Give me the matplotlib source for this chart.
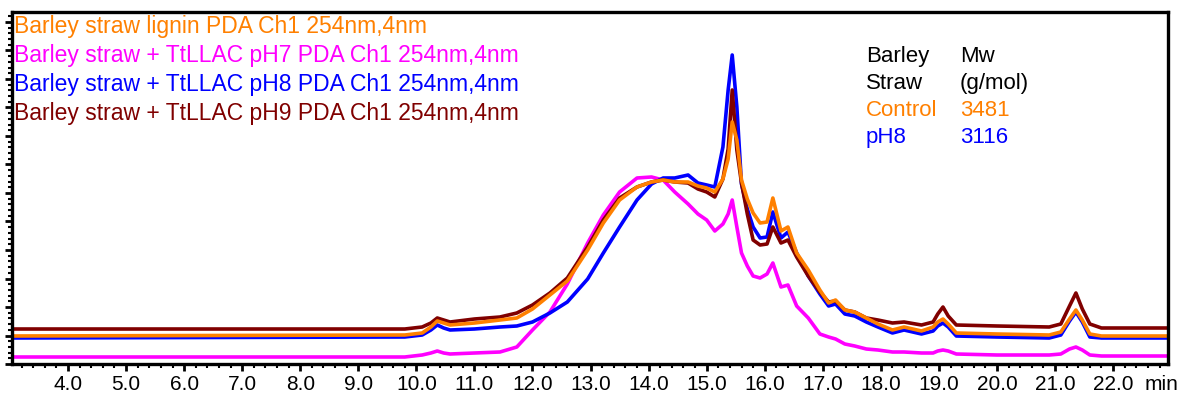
import matplotlib
matplotlib.use("Agg")
import matplotlib.pyplot as plt
from matplotlib.ticker import MultipleLocator, AutoMinorLocator

plt.rcParams["font.family"] = ["Liberation Sans", "DejaVu Sans"]

# ── chromatogram traces (retention time [min] vs. detector response, a.u.) ──
time_min = [
    3.0, 9.8, 10.1, 10.25, 10.36, 10.47, 10.58, 11.0, 11.44, 11.73,
    12.0, 12.3, 12.6, 12.95, 13.22, 13.5, 13.8, 14.05, 14.25, 14.45,
    14.68, 14.85, 15.0, 15.14, 15.28, 15.37, 15.44, 15.52, 15.6, 15.7,
    15.8, 15.92, 16.04, 16.14, 16.28, 16.4, 16.55, 16.75, 16.95, 17.1,
    17.22, 17.38, 17.55, 17.75, 17.95, 18.2, 18.4, 18.7, 18.9, 18.98,
    19.07, 19.16, 19.3, 20.0, 20.9, 21.1, 21.25, 21.36, 21.47, 21.6,
    21.8, 23.0,
]

control = [
    28, 29, 31, 37, 43, 41, 39, 41, 44, 46,
    55, 69, 83, 114, 141, 164, 177, 182, 184, 182,
    182, 178, 176, 172, 185, 205, 242, 224, 184, 165,
    151, 141, 142, 166, 133, 137, 111, 94, 74, 61,
    64, 54, 52, 46, 40, 34, 37, 33, 37, 42,
    45, 40, 31, 30, 29, 32, 45, 54, 44, 30,
    28, 28,
]

ph7 = [
    7, 7, 9, 11, 13, 11, 10, 11, 12, 17,
    34, 52, 80, 121, 149, 172, 186, 187, 184, 172,
    160, 150, 144, 133, 140, 150, 164, 137, 111, 98,
    88, 86, 90, 101, 77, 79, 58, 46, 30, 27,
    25, 20, 18, 15, 14, 12, 12, 11, 11, 13,
    14, 13, 10, 9, 9, 10, 15, 17, 14, 9,
    8, 8,
]

ph8 = [
    26, 27, 29, 34, 39, 36, 34, 35, 37, 38,
    42, 51, 62, 85, 111, 137, 164, 180, 186, 186,
    189, 181, 179, 177, 217, 274, 309, 257, 180, 155,
    137, 126, 127, 152, 126, 132, 111, 88, 70, 58,
    60, 50, 48, 42, 37, 31, 34, 30, 33, 38,
    41, 37, 28, 27, 26, 29, 43, 52, 42, 27,
    26, 26,
]

ph9 = [
    35, 35, 37, 41, 46, 44, 42, 45, 47, 51,
    59, 71, 86, 117, 144, 166, 177, 182, 184, 182,
    181, 175, 172, 167, 185, 215, 274, 214, 181, 150,
    124, 119, 120, 137, 121, 124, 107, 88, 72, 62,
    63, 54, 52, 46, 44, 41, 42, 39, 42, 50,
    57, 48, 39, 38, 37, 40, 58, 71, 55, 40,
    36, 36,
]

legend_labels = [
    "Barley straw lignin PDA Ch1 254nm,4nm",
    "Barley straw + TtLLAC pH7 PDA Ch1 254nm,4nm",
    "Barley straw + TtLLAC pH8 PDA Ch1 254nm,4nm",
    "Barley straw + TtLLAC pH9 PDA Ch1 254nm,4nm",
]

mw_header = [("Barley", "Mw"), ("Straw", "(g/mol)")]
mw_samples = ["Control", "pH8"]
mw_values = ["3481", "3116"]

C_ORANGE = "#ff8000"
C_MAGENTA = "#ff00ff"
C_BLUE = "#0000ff"
C_BROWN = "#800000"

W, H = 1186, 398
fig = plt.figure(figsize=(W / 100, H / 100), dpi=100)
ax = fig.add_axes([12 / W, 34 / H, 1156 / W, 352 / H])

lw = 2.6
ax.plot(time_min, ph7, color=C_MAGENTA, lw=lw, solid_joinstyle="round")
ax.plot(time_min, ph8, color=C_BLUE, lw=lw, solid_joinstyle="round")
ax.plot(time_min, ph9, color=C_BROWN, lw=lw, solid_joinstyle="round")
ax.plot(time_min, control, color=C_ORANGE, lw=lw, solid_joinstyle="round")

ax.set_xlim(3.035, 22.946)
ax.set_ylim(0, 352)

ax.xaxis.set_major_locator(MultipleLocator(1.0))
ax.xaxis.set_minor_locator(AutoMinorLocator(5))
ax.yaxis.set_major_locator(MultipleLocator(28.5))
ax.yaxis.set_minor_locator(AutoMinorLocator(5))
ax.xaxis.set_major_formatter(lambda v, p: f"{v:.1f}")
ax.tick_params(axis="x", which="major", length=5, width=2, labelsize=15, pad=3)
ax.tick_params(axis="x", which="minor", length=3, width=1.5)
ax.tick_params(axis="y", which="major", length=5, width=2)
ax.tick_params(axis="y", which="minor", length=3, width=1.5)
ax.tick_params(axis="y", labelleft=False)
for sp in ax.spines.values():
    sp.set_linewidth(2.4)

# x unit written after the last tick label, on the same line
ax.annotate("min", xy=(22.55, 0), xycoords=ax.get_xaxis_transform(),
            xytext=(0, -8), textcoords="offset points",
            fontsize=15, va="top", ha="left", annotation_clip=False)

# trace legend (top left)
for i, (lab, col) in enumerate(zip(legend_labels, [C_ORANGE, C_MAGENTA, C_BLUE, C_BROWN])):
    fig.text(14 / W, 1 - (33 + 29 * i) / H, lab, color=col, fontsize=16.5,
             va="baseline", ha="left")

# Mw table (top right)
rows = mw_header + list(zip(mw_samples, mw_values))
row_cols = ["black", "black", C_ORANGE, C_BLUE]
for i, ((a, b), col) in enumerate(zip(rows, row_cols)):
    yb = 1 - (62 + 27 * i) / H
    fig.text(866 / W, yb, a, color=col, fontsize=16, va="baseline", ha="left")
    fig.text(960 / W, yb, b, color=col, fontsize=16, va="baseline", ha="left")

fig.savefig("out.png", dpi=100)
